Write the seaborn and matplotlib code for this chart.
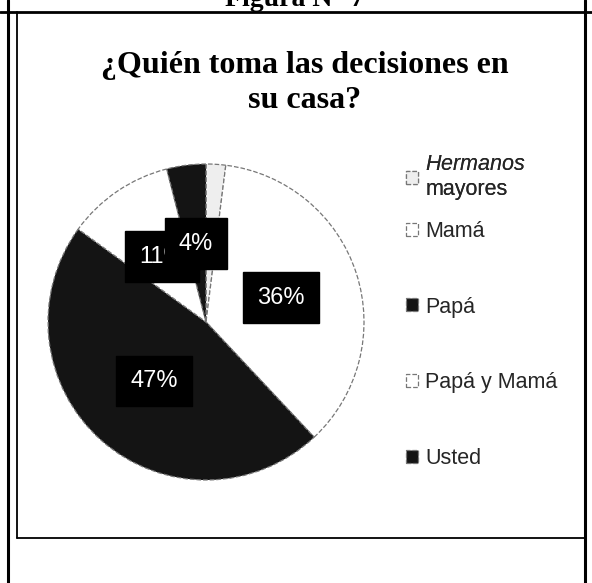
import matplotlib
matplotlib.use("Agg")
import matplotlib.pyplot as plt
from matplotlib.lines import Line2D
import seaborn as sns

# datos de la figura
categorias = ["$\\mathit{Hermanos}$\nmayores", "Mamá", "Papá", "Papá y Mamá", "Usted"]
porcentajes = [2, 36, 47, 11, 4]
colores = ["#eeeeee", "#ffffff", "#141414", "#ffffff", "#141414"]

titulo = "¿Quién toma las decisiones en\nsu casa?"
figura_txt = "Figura N° 7"

W, H = 592, 583

sns.set_theme(style="white")
plt.rcParams["font.family"] = ["Liberation Sans", "DejaVu Sans"]
plt.rcParams["mathtext.fontset"] = "custom"
plt.rcParams["mathtext.it"] = "Liberation Sans:italic"
plt.rcParams["mathtext.rm"] = "Liberation Sans"

fig = plt.figure(figsize=(W / 100, H / 100), dpi=100)
fig.patch.set_facecolor("white")


def fx(px):
    return px / W


def fy(py):
    return 1 - py / H


# pastel: centro (206, 322), radio 158 px
cx, cy, r = 206, 322, 158
ax = fig.add_axes([fx(cx - r), fy(cy + r), 2 * r / W, 2 * r / H])


def etiqueta(p):
    return f"{p:.0f}%" if p >= 3 else ""


wedges, textos, autotextos = ax.pie(
    porcentajes, colors=colores, startangle=90, counterclock=False,
    autopct=etiqueta, pctdistance=0.5, radius=1,
    wedgeprops=dict(edgecolor="#777777", linewidth=0.9, linestyle="--"),
    textprops=dict(color="white", fontsize=17),
)
for t in autotextos:
    if t.get_text():
        t.set_bbox(dict(boxstyle="square,pad=0.6", facecolor="black", edgecolor="black"))
ax.set_xlim(-1, 1)
ax.set_ylim(-1, 1)
ax.set_aspect("equal")
ax.axis("off")

# leyenda (dos bloques para respetar el espaciado del original)
ley_kw = dict(loc="center left", frameon=False, fontsize=15.5, handlelength=0.55,
              handleheight=0.55, handletextpad=0.35, borderpad=0, borderaxespad=0)
ley1 = fig.legend([wedges[0]], [categorias[0]], bbox_to_anchor=(fx(406), fy(177)), **ley_kw)
fig.add_artist(ley1)
fig.legend(wedges[1:], categorias[1:], bbox_to_anchor=(fx(406), fy(345)),
           labelspacing=2.55, **ley_kw)

# título
fig.text(fx(305), fy(83), titulo, ha="center", va="center", fontsize=23,
         fontweight="bold", family=["Liberation Serif", "DejaVu Serif"],
         linespacing=1.31, color="black")
fig.text(fx(295), fy(6), figura_txt, ha="center", va="baseline", fontsize=20,
         fontweight="bold", family=["Liberation Serif", "DejaVu Serif"], color="black")

# marcos
lineas = [
    ((0, 12), (W, 12), 2.0),
    ((8, 0), (8, H), 2.2),
    ((17, 12), (17, 538), 1.3),
    ((17, 538), (585, 538), 1.3),
    ((585, 0), (585, H), 2.2),
]
for (x0, y0), (x1, y1), lw in lineas:
    fig.add_artist(Line2D([fx(x0), fx(x1)], [fy(y0), fy(y1)], color="black",
                          linewidth=lw, transform=fig.transFigure))

fig.savefig("out.png", dpi=100, facecolor="white")
